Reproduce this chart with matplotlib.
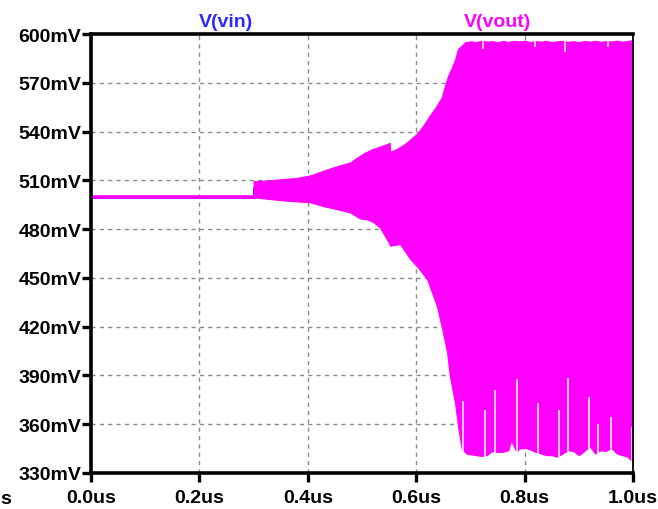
import numpy as np
import matplotlib
matplotlib.use("Agg")
import matplotlib.pyplot as plt
from matplotlib.ticker import FixedLocator, FuncFormatter

plt.rcParams['font.family'] = ['Liberation Sans', 'DejaVu Sans']

# V(vin): step at 0.3us (us, mV)
vin_t = [0.0, 0.3, 0.3, 1.0]
vin_mv = [500, 500, 505, 505]

# V(vout) before the oscillation starts
vout_pre_t = [0.0, 0.3]
vout_pre_mv = [500, 500]

# envelope of the oscillation
up_t = [0.300, 0.330, 0.354, 0.380, 0.404, 0.425, 0.447, 0.462, 0.478, 0.491,
        0.505, 0.520, 0.535, 0.546, 0.551, 0.552, 0.564, 0.575, 0.583, 0.592,
        0.601, 0.613, 0.625, 0.638, 0.647, 0.653, 0.659, 0.666, 0.672, 0.677,
        0.684, 0.690, 0.700, 0.710, 0.720, 0.730, 0.740, 0.750, 0.760, 0.770,
        0.780, 0.790, 0.800, 0.810, 0.820, 0.830, 0.840, 0.850, 0.860, 0.870,
        0.880, 0.890, 0.900, 0.910, 0.920, 0.930, 0.940, 0.950, 0.960, 0.970,
        0.980, 0.990, 1.000]
up_mv = [509.5, 510.0, 510.8, 511.5, 513.0, 515.5, 518.0, 519.5, 521.0, 524.0,
         527.0, 529.3, 531.0, 532.3, 533.0, 527.6, 529.3, 531.5, 533.4, 536.0,
         538.5, 543.6, 549.8, 555.9, 561.0, 568.2, 574.4, 579.5, 584.6, 590.8,
         592.8, 594.9, 595.5, 595.0, 595.8, 595.3, 595.6, 595.0, 595.7, 595.2,
         595.8, 595.4, 595.9, 595.1, 595.6, 595.3, 595.8, 595.0, 595.5, 595.7,
         595.2, 595.6, 595.0, 595.7, 595.3, 595.8, 595.2, 595.6, 595.4, 595.9,
         595.3, 595.7, 596.3]

lo_t = [0.300, 0.330, 0.360, 0.404, 0.430, 0.447, 0.478, 0.496, 0.509, 0.520,
        0.533, 0.548, 0.552, 0.570, 0.589, 0.603, 0.620, 0.629, 0.638, 0.648,
        0.657, 0.662, 0.672, 0.677, 0.684, 0.694, 0.700, 0.710, 0.720, 0.730,
        0.740, 0.750, 0.760, 0.770, 0.775, 0.785, 0.790, 0.800, 0.810, 0.820,
        0.830, 0.840, 0.850, 0.860, 0.870, 0.880, 0.890, 0.900, 0.910, 0.920,
        0.930, 0.940, 0.950, 0.960, 0.970, 0.980, 0.990, 1.000]
lo_mv = [499.6, 498.5, 497.5, 496.5, 494.0, 492.8, 490.3, 486.6, 486.0, 484.5,
         481.0, 472.5, 469.8, 470.8, 461.6, 456.5, 449.3, 441.1, 432.9, 418.6,
         404.2, 389.9, 372.4, 359.1, 344.8, 341.7, 341.5, 341.0, 340.5, 341.0,
         343.5, 343.0, 343.0, 344.0, 350.0, 343.0, 345.0, 345.5, 344.5, 343.0,
         342.0, 341.0, 341.0, 340.0, 342.0, 344.0, 343.5, 341.0, 343.5, 346.5,
         342.0, 344.0, 343.5, 345.5, 342.0, 341.0, 340.0, 336.5]

# narrow gaps at the bottom (minima that stay high) and at the top
gap_lo_t = [0.686, 0.727, 0.745, 0.786, 0.825, 0.863, 0.880, 0.919, 0.935, 0.959, 0.998]
gap_lo_mv = [374.0, 369.0, 381.0, 388.0, 373.0, 369.0, 388.5, 377.0, 360.0, 364.5, 358.0]
gap_hi_t = [0.723, 0.819, 0.875, 0.954]
gap_hi_mv = [591.0, 592.0, 589.0, 592.0]

x_ticks = [0.0, 0.2, 0.4, 0.6, 0.8, 1.0]
y_ticks = [330, 360, 390, 420, 450, 480, 510, 540, 570, 600]

MAG = '#ff00ff'
BLUE = '#2b2bff'

fig = plt.figure(figsize=(6.58, 5.10), dpi=100)
ax = fig.add_axes([91 / 658, 1 - 474 / 510, 542 / 658, 439 / 510])

ax.plot(vin_t, vin_mv, color=BLUE, lw=2.2, zorder=2)
ax.plot(vout_pre_t, vout_pre_mv, color=MAG, lw=2.6, zorder=3)

t_all = np.array(sorted(set(up_t) | set(lo_t)))
upper = np.interp(t_all, up_t, up_mv)
lower = np.interp(t_all, lo_t, lo_mv)
ax.fill_between(t_all, lower, upper, color=MAG, lw=0.8, edgecolor=MAG, zorder=3)

ax.vlines(gap_lo_t, 334, gap_lo_mv, color='white', lw=1.1, zorder=3.2)
ax.vlines(gap_hi_t, gap_hi_mv, 599, color='white', lw=1.1, zorder=3.2)

ax.set_xlim(0, 1.0)
ax.set_ylim(330, 600)
ax.xaxis.set_major_locator(FixedLocator(x_ticks))
ax.yaxis.set_major_locator(FixedLocator(y_ticks))
ax.xaxis.set_major_formatter(FuncFormatter(lambda v, p: f"{v:.1f}us"))
ax.yaxis.set_major_formatter(FuncFormatter(lambda v, p: f"{v:.0f}mV"))

ax.grid(True, color='#8a8a8a', lw=1.0, ls=(0, (3, 3)), zorder=1)
ax.set_axisbelow(True)

for side in ['left', 'top', 'bottom']:
    ax.spines[side].set_linewidth(2.6)
    ax.spines[side].set_zorder(5)
ax.spines['right'].set_linewidth(1.3)
ax.spines['right'].set_zorder(4)

ax.tick_params(axis='both', direction='out', length=6.5, width=2.4,
               labelsize=14, colors='black')
ax.tick_params(axis='y', pad=0.5)
ax.tick_params(axis='x', pad=5)
for lab in ax.get_xticklabels() + ax.get_yticklabels():
    lab.set_fontweight('bold')

# clipped label of the -0.2us tick at the far left
fig.text(11 / 658, 1 - 491 / 510, "s", ha='right', va='top',
         fontsize=14, fontweight='bold')

fig.text(226 / 658, 1 - 27 / 510, "V(vin)", color=BLUE, fontsize=14,
         fontweight='bold', ha='center', va='baseline')
fig.text(497 / 658, 1 - 27 / 510, "V(vout)", color=MAG, fontsize=14,
         fontweight='bold', ha='center', va='baseline')

fig.savefig('out.png', dpi=100)
